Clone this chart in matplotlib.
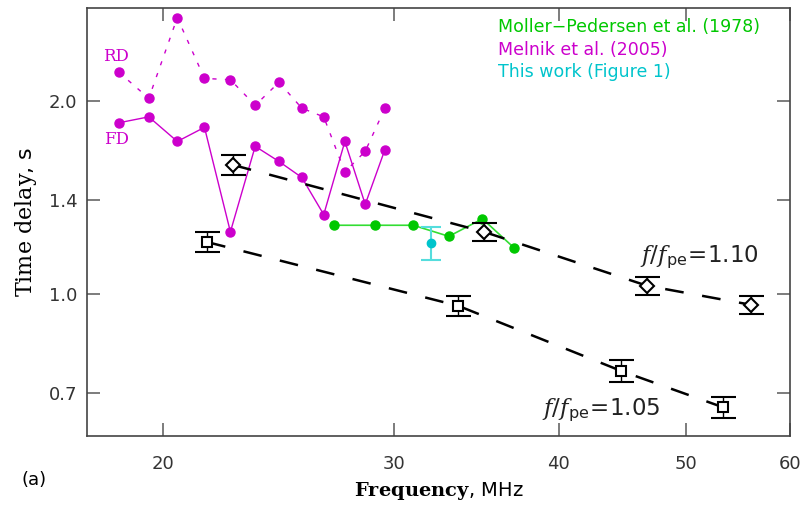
import numpy as np
import matplotlib
matplotlib.use("Agg")
import matplotlib.pyplot as plt

## data

# Melnik et al. (2005): fundamental (FD) and reverse drift (RD) delays
f_mel = [18.5, 19.5, 20.5, 21.5, 22.5, 23.5, 24.5, 25.5, 26.5, 27.5, 28.5, 29.5]
rd_mel = [2.22, 2.02, 2.70, 2.17, 2.16, 1.97, 2.14, 1.95, 1.89, 1.55, 1.67, 1.95]
fd_mel = [1.85, 1.89, 1.73, 1.82, 1.25, 1.70, 1.61, 1.52, 1.33, 1.73, 1.38, 1.68]

# Moller-Pedersen et al. (1978)
f_mp = [27, 29, 31, 33, 35, 37]
t_mp = [1.28, 1.28, 1.28, 1.23, 1.31, 1.18]

# this work
f_tw = [32.0]
t_tw = [1.20]
e_tw = [0.07]

# model, f/fpe = 1.10
f_110 = [22.6, 35.1, 46.7, 56.0]
t_110 = [1.59, 1.25, 1.03, 0.962]
e_110 = [0.055, 0.042, 0.034, 0.030]

# model, f/fpe = 1.05
f_105 = [21.6, 33.55, 44.65, 53.4]
t_105 = [1.205, 0.958, 0.758, 0.665]
e_105 = [0.043, 0.035, 0.030, 0.026]

xticks = [20, 30, 40, 50, 60]
yticks = [0.7, 1.0, 1.4, 2.0]

## style

plt.rcParams['mathtext.fontset'] = 'custom'
plt.rcParams['mathtext.rm'] = 'DejaVu Sans'
plt.rcParams['mathtext.it'] = 'DejaVu Serif:italic'
plt.rcParams['mathtext.bf'] = 'DejaVu Serif:bold'
plt.rcParams['mathtext.sf'] = 'DejaVu Serif'

mag = '#cc00cc'
grn = '#00c800'
cyn = '#00c4cc'
gry = '#444444'

fig = plt.figure(figsize=(8.06, 5.05), dpi=100)
ax = fig.add_axes([0.108, 0.1366, 0.872, 0.8485])
ax.set_xscale('log')
ax.set_yscale('log')

## plot

ax.plot(f_mel, rd_mel, color=mag, lw=1, ls=(0, (3, 6)), marker='o', ms=6.5, mec=mag, mfc=mag)
ax.plot(f_mel, fd_mel, color=mag, lw=1, marker='o', ms=6.5)

ax.plot(f_mp, t_mp, color='#33dd33', lw=1.2, marker='o', ms=6.5, mfc=grn, mec=grn)

ax.errorbar(f_tw, t_tw, yerr=e_tw, fmt='o', color=cyn, ms=6, ecolor='#55dddd',
            elinewidth=1.5, capsize=7, capthick=1.5)

dash = (0, (7.5, 7.5))
ax.plot(f_110, t_110, color='k', lw=1.8, ls=dash)
ax.plot(f_105, t_105, color='k', lw=1.8, ls=dash)
ax.errorbar(f_110, t_110, yerr=e_110, fmt='D', ms=7, mfc='white', mec='k', mew=1.5,
            ecolor='k', elinewidth=1, capsize=9, capthick=1, zorder=4)
ax.errorbar(f_105, t_105, yerr=e_105, fmt='s', ms=7, mfc='white', mec='k', mew=1.5,
            ecolor='k', elinewidth=1, capsize=9, capthick=1, zorder=4)

## text

ax.text(18.42, 2.35, 'RD', color=mag, family='DejaVu Serif', fontsize=12, ha='center', va='center')
ax.text(18.42, 1.74, 'FD', color=mag, family='DejaVu Serif', fontsize=12, ha='center', va='center')

ax.text(0.585, 0.955, 'Moller\u2212Pedersen et al. (1978)', color=grn, fontsize=12.5,
        transform=ax.transAxes, va='center')
ax.text(0.585, 0.902, 'Melnik et al. (2005)', color=mag, fontsize=12.5,
        transform=ax.transAxes, va='center')
ax.text(0.585, 0.849, 'This work (Figure 1)', color=cyn, fontsize=12.5,
        transform=ax.transAxes, va='center')

ax.text(0.787, 0.406, r'$f/f_{\rm pe}\!=\!1.10$', fontsize=16.5, color='#222222',
        transform=ax.transAxes, va='baseline')
ax.text(0.647, 0.047, r'$f/f_{\rm pe}\!=\!1.05$', fontsize=16.5, color='#222222',
        transform=ax.transAxes, va='baseline')

fig.text(0.042, 0.0495, '(a)', fontsize=13, ha='center', va='center')

ax.set_xlabel(r'$\mathbf{Frequency}$, MHz', fontsize=14, labelpad=5)
ax.set_ylabel(r'$\mathsf{Time\ delay}$, s', fontsize=16, labelpad=7)

## axes

ax.set_xlim(17.5, 60)
ax.set_ylim(0.6, 2.8)
ax.xaxis.set_major_locator(matplotlib.ticker.FixedLocator(xticks))
ax.yaxis.set_major_locator(matplotlib.ticker.FixedLocator(yticks))
ax.xaxis.set_minor_locator(matplotlib.ticker.NullLocator())
ax.yaxis.set_minor_locator(matplotlib.ticker.NullLocator())
ax.set_xticklabels([str(v) for v in xticks])
ax.set_yticklabels(['%.1f' % v for v in yticks])
ax.tick_params(which='major', direction='in', length=9.5, width=1.2, color='#666666',
               top=True, right=True, labelsize=13, labelcolor='#333333')
ax.tick_params(axis='x', pad=14)
ax.tick_params(axis='y', pad=7)
for s in ax.spines.values():
    s.set_color(gry)
    s.set_linewidth(1.2)

plt.savefig('out.png', dpi=100)
